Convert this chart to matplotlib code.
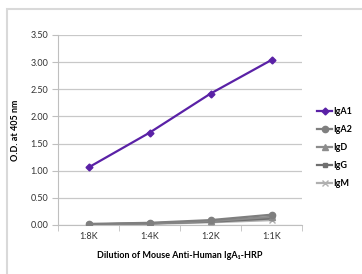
import matplotlib
matplotlib.use("Agg")
import matplotlib.pyplot as plt
from matplotlib.patches import Rectangle

plt.rcParams['font.family'] = ['Lato', 'DejaVu Sans']

diluciones = ["1:8K", "1:4K", "1:2K", "1:1K"]
iga1 = [1.06, 1.70, 2.42, 3.04]
iga2 = [0.02, 0.04, 0.09, 0.19]
igd = [0.01, 0.03, 0.07, 0.15]
igg = [0.01, 0.03, 0.06, 0.12]
igm = [0.00, 0.02, 0.05, 0.09]

series = [
    ("IgA1", iga1, "#5a21a6", "D", 3.5),
    ("IgA2", iga2, "#7f7f7f", "o", 4.5),
    ("IgD", igd, "#8c8c8c", "^", 4),
    ("IgG", igg, "#6f6f6f", "s", 3.5),
    ("IgM", igm, "#b0b0b0", "x", 4),
]

fig = plt.figure(figsize=(3.62, 2.74), dpi=100)
ax = fig.add_axes([58 / 362, 1 - 225 / 274, 244 / 362, 190 / 274])

# marco gris de la figura
fig.patches.append(Rectangle((7 / 362, -0.05), 1.0, 1 - 9 / 274 + 0.05,
                             transform=fig.transFigure, fill=False,
                             edgecolor="#d9d9d9", lw=1.5))

x = list(range(len(diluciones)))
for nombre, vals, color, marker, ms in reversed(series):
    ax.plot(x, vals, color=color, marker=marker, markersize=ms, lw=1.6,
            label=nombre, zorder=3)

ax.set_xlim(-0.5, 3.5)
ax.set_ylim(0, 3.5)
ax.set_yticks([0, 0.5, 1.0, 1.5, 2.0, 2.5, 3.0, 3.5])
ax.set_yticklabels([f"{v:.2f}" for v in ax.get_yticks()])
ax.set_xticks(x)
ax.set_xticklabels(diluciones)
ax.set_xticks([-0.5, 0.5, 1.5, 2.5, 3.5], minor=True)
ax.tick_params(axis="x", which="major", length=0, pad=5)
ax.tick_params(axis="x", which="minor", length=4, color="#bfbfbf")
ax.tick_params(axis="y", length=4, color="#bfbfbf", pad=3)
ax.tick_params(labelsize=6.5, labelcolor="#333333")
ax.grid(axis="y", color="#c8c8c8", lw=0.9)
ax.set_axisbelow(True)
for s in ["top", "right"]:
    ax.spines[s].set_visible(False)
ax.spines["left"].set_color("#bfbfbf")
ax.spines["bottom"].set_color("#bfbfbf")

ax.set_ylabel("O.D. at 405 nm", fontsize=6.5, fontweight="bold")
ax.yaxis.set_label_coords(-38 / 244, 0.5)
ax.set_xlabel("Dilution of Mouse Anti-Human IgA\u2081-HRP", fontsize=6.5,
              fontweight="bold", labelpad=7)

handles, labels = ax.get_legend_handles_labels()
ax.legend(handles[::-1], labels[::-1], loc="upper left",
          bbox_to_anchor=(317 / 362, 1 - 107 / 274), bbox_transform=fig.transFigure,
          frameon=False, fontsize=6.5, handlelength=1.7, handletextpad=0.15,
          labelspacing=1.0, borderaxespad=0, borderpad=0)
for t in ax.get_legend().get_texts():
    t.set_fontweight("bold")

fig.savefig("out.png", dpi=100)
